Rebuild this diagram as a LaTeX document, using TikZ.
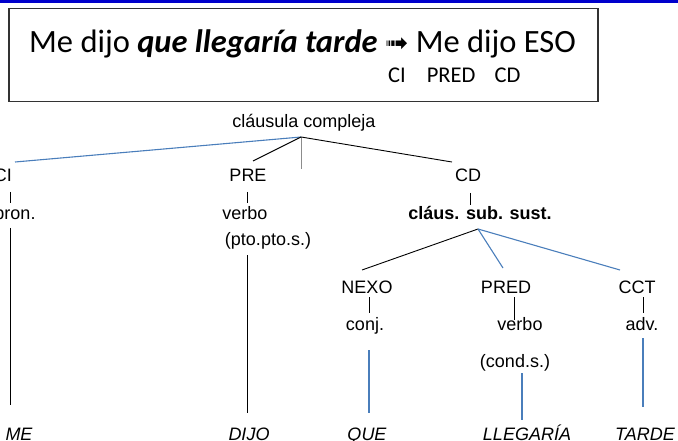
\documentclass[tikz,border=0pt]{standalone}
\usepackage{fontspec}
\setmainfont{Carlito}
\newfontfamily\arial{Liberation Sans}
\newfontfamily\dejavu{DejaVu Sans}
\definecolor{rulebl}{RGB}{0,0,204}
\definecolor{lnbl}{RGB}{74,126,187}
\definecolor{boxgr}{RGB}{51,51,51}
\tikzset{
  lbl/.style={anchor=base,inner sep=0pt,font=\arial\fontsize{18}{20}\selectfont},
  bld/.style={lbl,font=\arial\bfseries\fontsize{18}{20}\selectfont},
  wrd/.style={lbl,font=\arial\itshape\fontsize{18}{20}\selectfont},
  blk/.style={line width=0.9pt,black},
  blu/.style={line width=1.1pt,lnbl},
}
\begin{document}
\begin{tikzpicture}[x=1pt,y=-1pt]
  \useasboundingbox (0,0) rectangle (678,441);
  \fill[rulebl] (0,0) rectangle (678,3);
  % sentence box
  \node[draw=boxgr,line width=1.5pt,minimum width=589,minimum height=93,anchor=north west] (box) at (8,8) {};
  \node[anchor=base west,inner sep=0pt,font=\fontsize{32.5}{38}\selectfont] (sent) at (29,53)
    {Me dijo \textbf{\textit{que llegaría tarde}} {\dejavu\fontsize{28}{30}\selectfont ➟} Me dijo ESO};
  \node[anchor=base west,inner sep=0pt,font=\fontsize{22.5}{26}\selectfont] (funcs) at (388,83)
    {CI\hspace{21pt}PRED\hspace{19pt}CD};
  % labels
  \node[lbl] (root) at (304,128) {cláusula compleja};
  \node[lbl] (ci) at (3,182) {CI};
  \node[lbl] (pron) at (15,219) {pron.};
  \node[lbl] (pre) at (248,182) {PRE};
  \node[lbl] (verbo1) at (245,219) {verbo};
  \node[lbl] (pto) at (268,246) {(pto.pto.s.)};
  \node[lbl] (cd) at (468,182) {CD};
  \node[bld] (sub) at (480,219) {cláus. sub. sust.};
  \node[lbl] (nexo) at (367,293) {NEXO};
  \node[lbl] (conj) at (365,330) {conj.};
  \node[lbl] (pred) at (506,293) {PRED};
  \node[lbl] (verbo2) at (520,330) {verbo};
  \node[lbl] (cond) at (515,367) {(cond.s.)};
  \node[lbl] (cct) at (637,293) {CCT};
  \node[lbl] (adv) at (642,330) {adv.};
  \node[wrd] (me) at (19,440) {ME};
  \node[wrd] (dijo) at (249,440) {DIJO};
  \node[wrd] (que) at (367,440) {QUE};
  \node[wrd] (lleg) at (527,440) {LLEGARÍA};
  \node[wrd] (tarde) at (645,440) {TARDE};
  % branches
  \coordinate (rj) at ([shift={(-3,9)}]root.base);
  \coordinate (sj) at ([shift={(-2,10)}]sub.base);
  \draw[blu] (rj) -- ([shift={(12,-20)}]ci.base);
  \draw[blk] (rj) -- ([shift={(5,-21)}]pre.base);
  \draw[line width=1pt,black!45] (rj) -- ++(0,32);
  \draw[blk] (rj) -- ([shift={(-16,-20)}]cd.base);
  \draw[blk] ([shift={(7,10)}]ci.base) -- ([shift={(7,21)}]ci.base);
  \draw[blk] ([shift={(-5,9)}]pron.base) -- ([shift={(-9,-35)}]me.base);
  \draw[blk] ([shift={(-1,10)}]pre.base) -- ([shift={(-1,21)}]pre.base);
  \draw[blk] ([shift={(-21,9)}]pto.base) -- ([shift={(-2,-27)}]dijo.base);
  \draw[blk] ([shift={(2,11)}]cd.base) -- ([shift={(2,23)}]cd.base);
  \draw[blk] (sj) -- ([shift={(-5,-23)}]nexo.base);
  \draw[blu] (sj) -- ([shift={(-3,-25)}]pred.base);
  \draw[blu] (sj) -- ([shift={(-17,-23)}]cct.base);
  \draw[blk] ([shift={(2,4)}]nexo.base) -- ([shift={(2,20)}]nexo.base);
  \draw[blk] ([shift={(8,4)}]pred.base) -- ([shift={(8,27)}]pred.base);
  \draw[blk] ([shift={(6,4)}]cct.base) -- ([shift={(6,20)}]cct.base);
  \draw[blu] ([shift={(4,20)}]conj.base) -- ([shift={(2,-27)}]que.base);
  \draw[blu] ([shift={(7,6)}]cond.base) -- ([shift={(-5,-20)}]lleg.base);
  \draw[blu] ([shift={(1,8)}]adv.base) -- ([shift={(-2,-33)}]tarde.base);
\end{tikzpicture}
\end{document}
